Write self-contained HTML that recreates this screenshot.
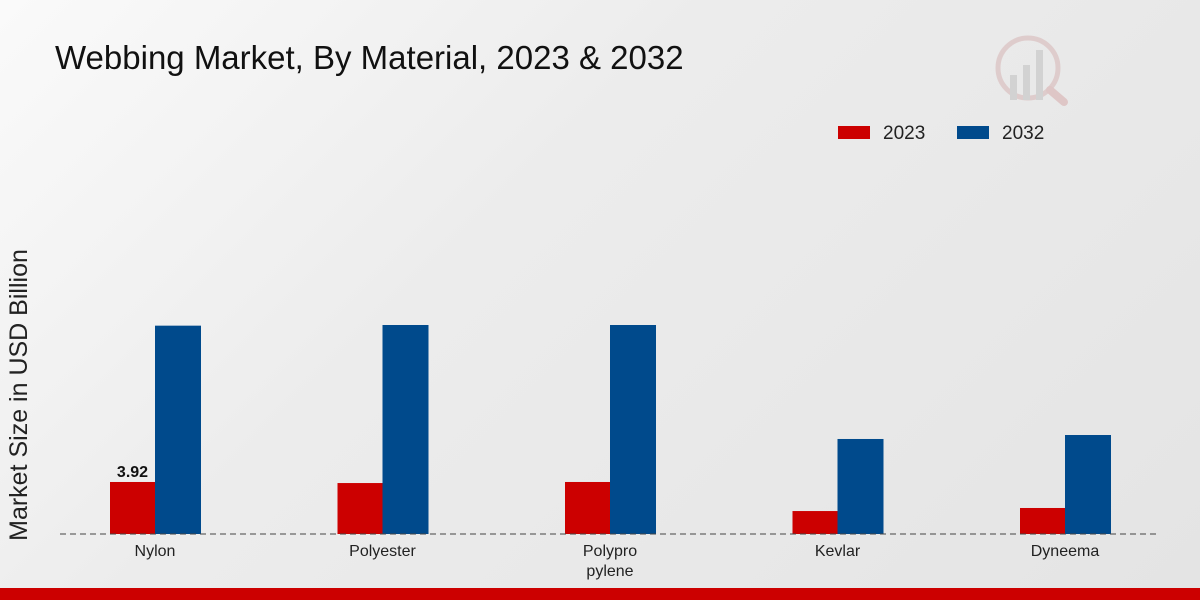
<!DOCTYPE html>
<html><head><meta charset="utf-8"><style>
html,body{margin:0;padding:0}
body{width:1200px;height:600px;overflow:hidden;background:linear-gradient(135deg,#fafafa 0%,#ececec 40%,#e4e4e4 100%);font-family:"Liberation Sans Narrow","Liberation Sans",sans-serif}
svg{position:absolute;left:0;top:0}
</style></head><body>
<svg width="1200" height="600">
<text x="55" y="69" font-size="33" fill="#111" font-family="Liberation Sans Narrow, Liberation Sans, sans-serif">Webbing Market, By Material, 2023 &amp; 2032</text>
<g opacity="0.35">
<circle cx="1028" cy="68" r="30" fill="none" stroke="#c99" stroke-width="5"/>
<rect x="1010" y="75" width="7" height="25" fill="#aaa"/><rect x="1023" y="65" width="7" height="35" fill="#aaa"/><rect x="1036" y="50" width="7" height="50" fill="#aaa"/>
<line x1="1050" y1="90" x2="1064" y2="102" stroke="#c88" stroke-width="8" stroke-linecap="round"/>
</g>
<g>
<rect x="838" y="126" width="32" height="13" fill="#cc0000"/>
<text x="883" y="139" font-size="19" fill="#222">2023</text>
<rect x="957" y="126" width="32" height="13" fill="#004a8c"/>
<text x="1002" y="139" font-size="19" fill="#222">2032</text>
</g>
<text transform="translate(27,395) rotate(-90)" text-anchor="middle" font-size="25" fill="#222" font-family="Liberation Sans, sans-serif">Market Size in USD Billion</text>
<g id="bars"></g>
<line x1="60" y1="534" x2="1160" y2="534" stroke="#444" stroke-dasharray="6,4"/>
<g id="labels"></g>
<rect x="0" y="588" width="1200" height="12" fill="#cc0000"/>
</svg>
<script>
const categories=[["Nylon"],["Polyester"],["Polypro","pylene"],["Kevlar"],["Dyneema"]];
const values2023=[3.92,3.84,3.92,1.73,1.96];
const values2032=[15.7,15.75,15.75,7.16,7.46];
const ns="http://www.w3.org/2000/svg";
const baseY=534,pxPerUnit=13.27,firstCenter=155,step=227.5,bw=45;
const yScale=v=>baseY-v*pxPerUnit;
const xCenter=i=>firstCenter+i*step;
const bars=document.getElementById('bars'),labels=document.getElementById('labels');
function mk(t,a){const e=document.createElementNS(ns,t);for(const k in a)e.setAttribute(k,a[k]);return e;}
categories.forEach((c,i)=>{
  const cx=xCenter(i);
  const r=mk('rect',{x:cx-bw,y:yScale(values2023[i]),width:bw,height:baseY-yScale(values2023[i]),fill:'#cc0000'});
  
  
  bars.appendChild(r);
  const b=mk('rect',{x:cx,y:yScale(values2032[i]),width:bw+1,height:baseY-yScale(values2032[i]),fill:'#004a8c'});
  
  
  bars.appendChild(b);
  c.forEach((line,j)=>{
    const t=mk('text',{x:cx,y:556+j*20,'text-anchor':'middle','font-size':'16',fill:'#222'});
    t.textContent=line;
    
    
    labels.appendChild(t);
  });
});
const v=mk('text',{x:xCenter(0)-bw/2,y:yScale(values2023[0])-5,'text-anchor':'middle','font-size':'16','font-weight':'bold',fill:'#111','font-family':'Liberation Sans, sans-serif'});
v.textContent=values2023[0].toFixed(2);


labels.appendChild(v);
</script>
</body></html>
